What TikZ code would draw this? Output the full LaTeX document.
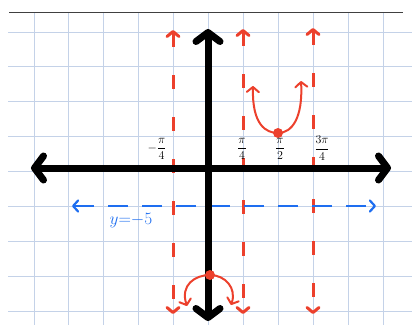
\documentclass[tikz,border=0pt]{standalone}
\usepackage{xcolor}
\usepackage{tikz}
\usetikzlibrary{arrows.meta, positioning}

\definecolor{gridblue}{RGB}{196,210,232}
\definecolor{penred}{RGB}{236,64,44}
\definecolor{penblue}{RGB}{30,110,240}

\begin{document}
\begin{tikzpicture}[
        x=1pt, y=-1pt,
        gridline/.style={gridblue, line width=0.9pt},
        axis/.style={line width=7pt, line cap=round,
                     {Straight Barb[length=9pt, width=24pt, round]}-{Straight Barb[length=9pt, width=24pt, round]}},
        asym/.style={penred, line width=3pt, dash pattern=on 14pt off 28pt,
                     {Straight Barb[length=5pt, width=12pt, round]}-{Straight Barb[length=5pt, width=12pt, round]}},
        curve/.style={penred, line width=2pt, line cap=round,
                      {Straight Barb[length=5pt, width=12pt, round]}-{Straight Barb[length=5pt, width=12pt, round]}},
        midline/.style={penblue, line width=2.2pt, dash pattern=on 20pt off 14pt,
                        {Straight Barb[length=5pt, width=11pt, round]}-{Straight Barb[length=5pt, width=11pt, round]}},
        dot/.style={circle, fill=penred, inner sep=0pt, minimum size=10pt},
        tick/.style={font=\large, inner sep=0.5pt},
    ]
    \useasboundingbox (0,0) rectangle (412,325);
    % paper
    \foreach \i in {0,...,10}
        \draw[gridline] (34+34.9*\i,12) -- (34+34.9*\i,325);
    \foreach \j in {0,...,8}
        \draw[gridline] (8,32+34.9*\j) -- (412,32+34.9*\j);
    \draw[black!75, line width=1pt] (9,12) -- (403,12);

    % asymptotes
    \coordinate (a1t) at (173,30);  \coordinate (a1b) at (173,314);
    \coordinate (a2t) at (243,29);  \coordinate (a2b) at (243,314);
    \coordinate (a3t) at (313,28);  \coordinate (a3b) at (313,314);
    \draw[asym] (a1t) -- (a1b);
    \draw[asym] (a2t) -- (a2b);
    \draw[asym] (a3t) -- (a3b);

    % midline
    \coordinate (ml) at (72,206);
    \coordinate (mr) at (376,206);
    \draw[midline] (ml) -- (mr);
    \node[penblue, font=\LARGE] (mlab) at (131,221) {$y{=}{-}5$};

    % axes
    \coordinate (xl) at (31,168);  \coordinate (xr) at (391,168);
    \coordinate (yt) at (208,29);  \coordinate (yb) at (208,321);
    \draw[axis] (xl) -- (xr);
    \draw[axis] (yt) -- (yb);

    % branches
    \node[dot] (top) at (278,133) {};
    \node[dot] (bot) at (210,275) {};
    \coordinate (tl) at (253,86);  \coordinate (tr) at (301,81);
    \coordinate (bl) at (187,306); \coordinate (br) at (231,305);
    \draw[curve] (tl) .. controls (252,125) and (266,133) .. (top.center)
                      .. controls (292,133) and (303,118) .. (tr);
    \draw[curve] (bl) .. controls (180,285) and (195,275) .. (bot.center)
                      .. controls (225,275) and (237,288) .. (br);

    % tick labels
    \node[tick] (t1) at (157,149) {$\displaystyle -\frac{\pi}{4}$};
    \node[tick] (t2) at (242,149) {$\displaystyle \frac{\pi}{4}$};
    \node[tick] (t3) at (280,149) {$\displaystyle \frac{\pi}{2}$};
    \node[tick] (t4) at (322,148) {$\displaystyle \frac{3\pi}{4}$};
\end{tikzpicture}
\end{document}
